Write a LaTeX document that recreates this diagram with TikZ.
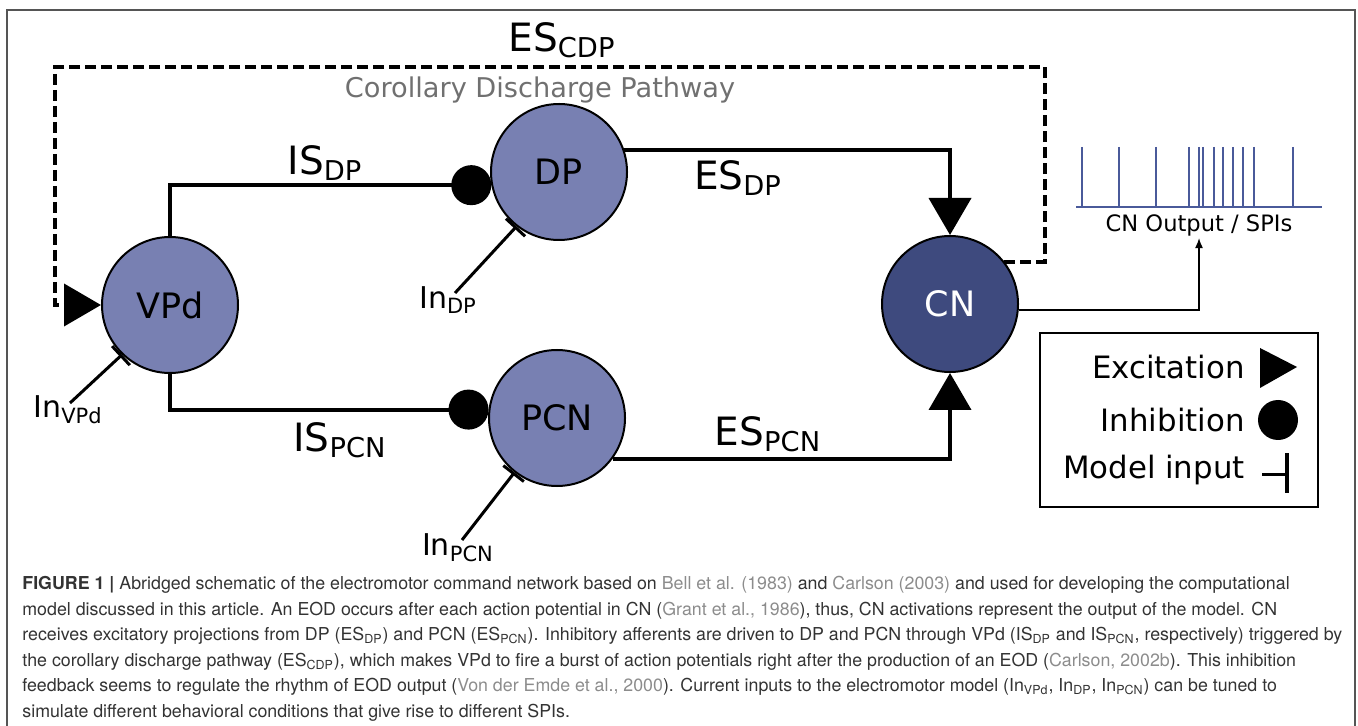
\documentclass[tikz,border=0pt]{standalone}
\usepackage{fontspec}
\setmainfont{DejaVu Sans}
\newfontfamily\capfont{TeX Gyre Heros}
\usetikzlibrary{arrows.meta}
\definecolor{nodefill}{HTML}{7880B2}
\definecolor{cnfill}{HTML}{3E4A7E}
\definecolor{spikecol}{HTML}{4A5A9A}
\definecolor{captxt}{HTML}{333333}
\definecolor{capref}{HTML}{8C8C8C}
\definecolor{framecol}{HTML}{555555}
\definecolor{cdpgray}{HTML}{707070}
\newcommand{\cit}[1]{\textcolor{capref}{#1}}
\begin{document}
\begin{tikzpicture}[x=0.5pt,y=-0.5pt,
  neuron/.style={circle, draw=black, line width=1pt, fill=nodefill, minimum size=68pt, inner sep=0pt, font=\fontsize{17.5}{20}\selectfont},
  exc/.style={line width=2pt, -{Triangle[length=18.5pt,width=21pt]}},
  inh/.style={line width=2pt, -{Circle[length=20pt]}},
  inp/.style={line width=1.5pt, -{Bar[width=13pt,line width=1.5pt]}},
  syn/.style={inner sep=0pt, font=\fontsize{19.5}{22}\selectfont},
  inlbl/.style={inner sep=0pt, font=\fontsize{15}{18}\selectfont},
  leg/.style={inner sep=0pt, anchor=east, font=\fontsize{15.4}{18}\selectfont},
  capline/.style={anchor=west, inner sep=0pt, text=captxt, font=\capfont\fontsize{8.9}{10}\selectfont},
  cdp/.style={line width=2pt, dash pattern=on 5.5pt off 2.5pt}
]
\useasboundingbox (0,0) rectangle (1358,726);
\draw[framecol, line width=1pt] (7,726) -- (7,10) -- (1355,10) -- (1355,726);

% neurons
\node[neuron] (vpd) at (170,305) {VPd};
\node[neuron] (dp) at (559,172) {DP};
\node[neuron] (pcn) at (557,418) {PCN};
\node[neuron, fill=cnfill, text=white] (cn) at (950,304) {CN};

% inhibitory synapses
\draw[inh] (vpd.north) |- (dp.191);
\draw[inh] (vpd.south) |- (pcn.173);
% excitatory synapses
\draw[exc] (dp.19) -| (cn.north);
\draw[exc] (pcn.-36) -| (cn.south);
% corollary discharge
\coordinate (cdpr) at (1045,67);
\coordinate (cdpl) at (55,67);
\draw[cdp, -{Triangle[length=18.5pt,width=21pt]}] (cn.38) -| (cdpr) -- (cdpl) |- (vpd.west);

% labels
\node[syn] (isdp) at (325,163) {IS\textsubscript{DP}};
\node[syn] (ispcn) at (340,440) {IS\textsubscript{PCN}};
\node[syn] (esdp) at (738,178) {ES\textsubscript{DP}};
\node[syn] (espcn) at (768,434) {ES\textsubscript{PCN}};
\node[syn] (escdp) at (562,40) {ES\textsubscript{CDP}};
\node[inner sep=0pt, text=cdpgray, font=\fontsize{13.6}{16}\selectfont] (cdplbl) at (540,90) {Corollary Discharge Pathway};

% model inputs
\node[inlbl] (invpd) at (68,410) {In\textsubscript{VPd}};
\node[inlbl] (indp) at (448,300) {In\textsubscript{DP}};
\node[inlbl] (inpcn) at (458,548) {In\textsubscript{PCN}};
\coordinate (invpdend) at (70,403);
\coordinate (indpend) at (455,293);
\coordinate (inpcnend) at (462,540);
\draw[inp] (invpdend) -- (vpd.226);
\draw[inp] (indpend) -- (dp.232);
\draw[inp] (inpcnend) -- (pcn.232);

% output spikes
\draw[spikecol, line width=0.9pt] (1076,207) -- (1322,207);
\foreach \s in {1082,1119,1156,1189,1199,1203,1214,1223,1233,1243,1254,1293}
  \draw[spikecol, line width=0.9pt] (\s,147) -- (\s,207);
\node[inner sep=1pt, font=\fontsize{11.3}{13}\selectfont] (outlbl) at (1199,225) {CN Output / SPIs};
\draw[line width=0.6pt, -{Latex[length=5pt,width=4pt]}] (cn.-5) -| (outlbl.south);

% legend
\node[draw, line width=0.8pt, minimum width=139pt, minimum height=87pt, inner sep=0pt] (legend) at (1179,420) {};
\node[leg] (lexc) at (1245,367) {Excitation};
\node[leg] (linh) at (1245,420) {Inhibition};
\node[leg] (linp) at (1245,470) {Model input};
\fill (1260,348) -- (1297,367) -- (1260,388) -- cycle;
\fill (1278,420) circle[radius=10pt];
\draw[line width=1.5pt] (1262,474) -- (1287,474);
\draw[line width=2pt] (1287,453) -- (1287,493);

% caption
\node[capline] (cap1) at (22,585) {\textbf{FIGURE 1 |} Abridged schematic of the electromotor command network based on \cit{Bell et al. (1983)} and \cit{Carlson (2003)} and used for developing the computational};
\node[capline] (cap2) at (22,610.5) {model discussed in this article. An EOD occurs after each action potential in CN (\cit{Grant et al., 1986}), thus, CN activations represent the output of the model. CN};
\node[capline] (cap3) at (22,636) {receives excitatory projections from DP (ES\textsubscript{DP}) and PCN (ES\textsubscript{PCN}). Inhibitory afferents are driven to DP and PCN through VPd (IS\textsubscript{DP} and IS\textsubscript{PCN}, respectively) triggered by};
\node[capline] (cap4) at (22,661.5) {the corollary discharge pathway (ES\textsubscript{CDP}), which makes VPd to fire a burst of action potentials right after the production of an EOD (\cit{Carlson, 2002b}). This inhibition};
\node[capline] (cap5) at (22,687) {feedback seems to regulate the rhythm of EOD output (\cit{Von der Emde et al., 2000}). Current inputs to the electromotor model (In\textsubscript{VPd}, In\textsubscript{DP}, In\textsubscript{PCN}) can be tuned to};
\node[capline] (cap6) at (22,712.5) {simulate different behavioral conditions that give rise to different SPIs.};
\end{tikzpicture}
\end{document}
